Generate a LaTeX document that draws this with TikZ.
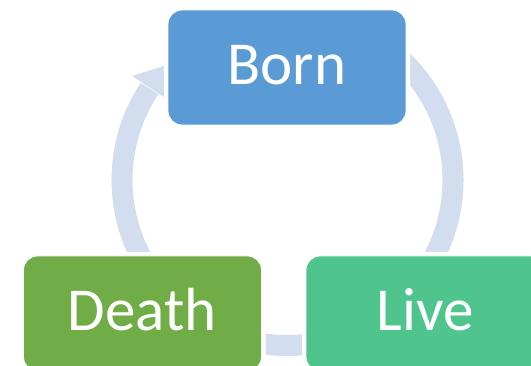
\documentclass[tikz,border=0pt]{standalone}
\usepackage{fontspec}
\setmainfont{Carlito}
\definecolor{bornblue}{HTML}{5B9BD5}
\definecolor{deathgreen}{HTML}{70AD47}
\definecolor{livegreen}{HTML}{4FC58D}
\definecolor{ringblue}{HTML}{D2DDEF}
\begin{document}
\begin{tikzpicture}[x=1pt,y=1pt,
  stagebox/.style={rectangle, rounded corners=14pt, minimum width=238pt, minimum height=115pt,
    inner sep=0pt, text=white, text height=35pt, text depth=0pt,
    font=\fontsize{61}{70}\selectfont,
    preaction={draw=white, line width=8pt}, draw=white, line width=0.8pt},
  ring/.style={draw=ringblue, line width=21pt},
  ringhead/.style={fill=ringblue, draw=none}]
\useasboundingbox (0,0) rectangle (531,366);
\clip (0,0) rectangle (531,366);
\coordinate (c) at (287.5,186);
% cycle ring with arrow
\draw[ring] ([shift={(60:165.5)}]c) arc[start angle=60, end angle=-213.5, radius=165.5];
\fill[ringhead] ([shift={(146.2:187)}]c) -- ([shift={(146.2:144)}]c) -- ([shift={(135.5:165.5)}]c) -- cycle;
% stages
\node[stagebox, fill=bornblue] (born) at (287,298.5) {Born};
\node[stagebox, fill=deathgreen] (death) at (142.5,52.5) {Death};
\node[stagebox, fill=livegreen] (live) at (425,52.5) {Live};
\end{tikzpicture}
\end{document}
